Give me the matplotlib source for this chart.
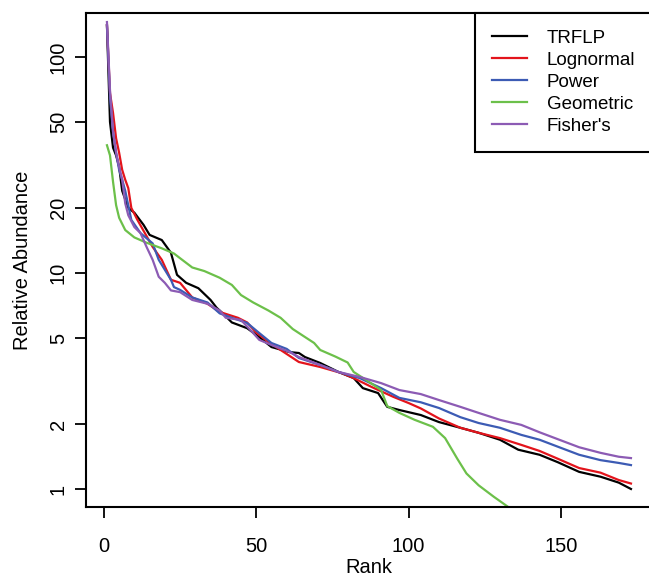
import matplotlib
matplotlib.use("Agg")
import matplotlib.pyplot as plt

plt.rcParams['font.family'] = ['Liberation Sans', 'DejaVu Sans']

# Rangordning och relativ abundans
trflp_rank = [1, 2, 3, 4, 5, 6, 8, 10, 13, 15, 19, 22, 24, 27, 31, 35, 37, 39, 42, 47, 51, 55,
              61, 64, 66, 71, 77, 82, 85, 90, 93, 97, 104, 110, 117, 123, 130, 136, 143, 149,
              156, 163, 169, 173]
trflp_val = [140, 50, 38, 35, 31, 24, 20, 19, 16.7, 15, 14.2, 12.4, 9.8, 9.0, 8.5, 7.5, 6.9, 6.5,
             5.9, 5.55, 5.05, 4.54, 4.3, 4.26, 4.08, 3.83, 3.48, 3.26, 2.93, 2.78, 2.40, 2.32,
             2.2, 2.04, 1.92, 1.82, 1.69, 1.52, 1.44, 1.33, 1.20, 1.14, 1.07, 1.00]

lognorm_rank = [1, 2, 3, 4, 5, 6, 7, 8, 9, 11, 16, 19, 22, 25, 29, 34, 38, 44, 47, 50, 54, 58,
                64, 71, 78, 82, 88, 95, 100, 104, 110, 117, 123, 130, 137, 143, 149, 156, 163,
                169, 173]
lognorm_val = [140, 68, 55, 42, 36, 30, 27, 24.7, 20, 17.6, 13.2, 11.5, 9.3, 9.0, 7.7, 7.2, 6.6,
               6.2, 5.9, 5.3, 4.8, 4.4, 3.87, 3.67, 3.44, 3.26, 2.96, 2.67, 2.5, 2.36, 2.12,
               1.92, 1.82, 1.72, 1.6, 1.5, 1.38, 1.25, 1.19, 1.1, 1.06]

power_rank = [1, 2, 3, 4, 5, 6, 7, 9, 12, 16, 18, 22, 23, 25, 29, 34, 38, 42, 47, 51, 55, 60,
              64, 71, 77, 84, 91, 97, 104, 110, 117, 123, 130, 137, 143, 150, 156, 163, 169, 173]
power_val = [140, 65, 45, 36, 30, 27, 24, 17.6, 15.3, 13.7, 11.5, 9.3, 8.6, 8.35, 7.7, 7.3, 6.5,
             6.2, 5.87, 5.27, 4.74, 4.45, 4.04, 3.75, 3.48, 3.26, 2.93, 2.64, 2.52, 2.37, 2.15,
             2.02, 1.92, 1.78, 1.69, 1.55, 1.44, 1.36, 1.32, 1.29]

geom_rank = [1, 2, 3, 4, 5, 7, 10, 14, 19, 23, 25, 29, 33, 38, 42, 45, 49, 54, 58, 62, 64, 69,
             71, 76, 80, 82, 86, 91, 93, 97, 102, 108, 112, 116, 119, 123, 128, 133]
geom_val = [39, 35, 26.4, 20.6, 18, 15.8, 14.6, 13.8, 13.0, 12.3, 11.7, 10.6, 10.2, 9.5, 8.8,
            7.9, 7.3, 6.7, 6.2, 5.5, 5.27, 4.74, 4.4, 4.1, 3.85, 3.48, 3.2, 2.87, 2.42, 2.25,
            2.09, 1.94, 1.72, 1.38, 1.18, 1.04, 0.92, 0.82]

fisher_rank = [1, 2, 3, 4, 5, 6, 7, 8, 10, 12, 14, 16, 18, 20, 22, 25, 29, 34, 38, 40, 45, 49,
               51, 55, 61, 64, 71, 77, 84, 91, 97, 104, 110, 117, 123, 130, 137, 143, 149, 156,
               163, 169, 173]
fisher_val = [145, 70, 45, 36, 31, 27, 21, 18.5, 16.3, 15.3, 13.2, 11.5, 9.6, 9.0, 8.3, 8.15,
              7.5, 7.2, 6.7, 6.2, 6.06, 5.27, 4.9, 4.64, 4.3, 4.08, 3.75, 3.48, 3.3, 3.09, 2.87,
              2.75, 2.58, 2.4, 2.25, 2.09, 1.98, 1.83, 1.70, 1.56, 1.47, 1.41, 1.39]

yticks = [1, 2, 5, 10, 20, 50, 100]
xticks = [0, 50, 100, 150]

fig = plt.figure(figsize=(6.49, 5.82), dpi=100)
ax = fig.add_axes([0.1325, 0.129, 0.872, 0.849])

lw = 1.6
ax.plot(trflp_rank, trflp_val, color="black", lw=lw, label="TRFLP")
ax.plot(lognorm_rank, lognorm_val, color="#e3141c", lw=lw, label="Lognormal")
ax.plot(power_rank, power_val, color="#3c5bb4", lw=lw, label="Power")
ax.plot(geom_rank, geom_val, color="#6cc04a", lw=lw, label="Geometric")
ax.plot(fisher_rank, fisher_val, color="#8c5bb4", lw=lw, label="Fisher's")

ax.set_yscale("log")
ax.set_xlim(-5.88, 179.88)
ax.set_ylim(0.826, 160)

fs = 14.5
ax.set_xticks(xticks)
ax.set_xticklabels([str(t) for t in xticks], fontsize=fs)
ax.set_yticks(yticks)
ax.set_yticklabels([str(t) for t in yticks], fontsize=fs, rotation=90, va="center")
ax.minorticks_off()
ax.tick_params(direction="out", length=8, width=1.3)
ax.tick_params(axis="x", pad=14)
ax.tick_params(axis="y", pad=5)

for s in ax.spines.values():
    s.set_linewidth(1.5)

ax.set_xlabel("Rank", fontsize=fs, labelpad=1)
ax.set_ylabel("Relative Abundance", fontsize=fs, labelpad=12)

leg = ax.legend(loc="upper right", borderaxespad=0, fancybox=False, edgecolor="black",
                framealpha=1, fontsize=13.5, handlelength=1.85, handletextpad=1.05,
                labelspacing=0.26, borderpad=0.9)
leg.get_frame().set_linewidth(1.5)

fig.savefig("out.png", dpi=100)
